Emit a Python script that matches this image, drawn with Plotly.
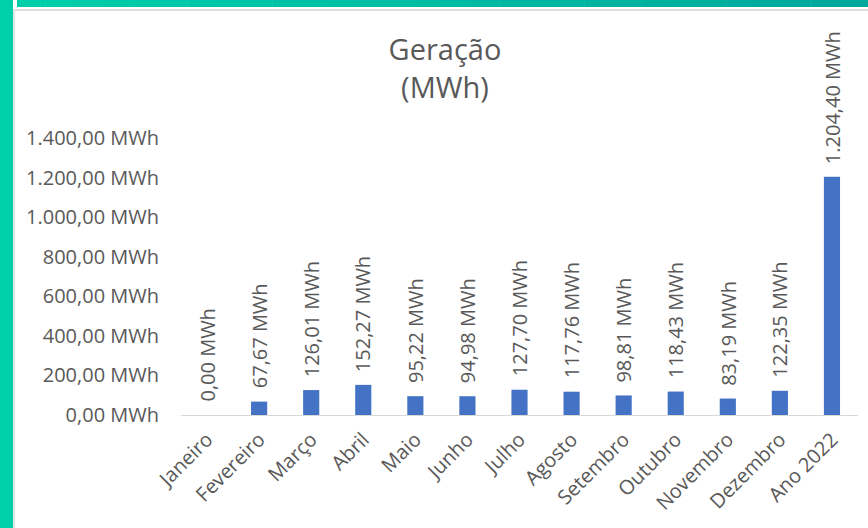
import plotly.graph_objects as go

categories = ["Janeiro", "Fevereiro", "Março", "Abril", "Maio", "Junho", "Julho",
              "Agosto", "Setembro", "Outubro", "Novembro", "Dezembro", "Ano 2022"]
values = [0.00, 67.67, 126.01, 152.27, 95.22, 94.98, 127.70,
          117.76, 98.81, 118.43, 83.19, 122.35, 1204.40]
tick_values = [0, 200, 400, 600, 800, 1000, 1200, 1400]


def fmt_br(v):
    s = f"{v:,.2f}"
    s = s.replace(",", "X").replace(".", ",").replace("X", ".")
    return s + " MWh"


W, H = 868, 528
L, R, T, B = 181, 858, 138, 415


def px(x):
    return (x - L) / (R - L)


def py(y):
    return (B - y) / (B - T)


FONT = "Open Sans"
GRAY = "#595959"
FS = 20

fig = go.Figure()
fig.add_trace(go.Bar(
    x=categories, y=values,
    marker=dict(color="#4472C4", line=dict(width=0)),
    width=0.31, hoverinfo="x+y",
))

annotations = []
for c, v in zip(categories, values):
    annotations.append(dict(
        x=c, y=v, xref="x", yref="y", text=fmt_br(v), showarrow=False,
        textangle=-90, xanchor="center", yanchor="bottom", yshift=11,
        font=dict(family=FONT, size=FS, color=GRAY)))

shapes = []
# left teal strip
shapes.append(dict(type="rect", xref="paper", yref="paper",
                   x0=px(0), x1=px(13), y0=py(H), y1=py(0),
                   fillcolor="#00CFAA", line=dict(width=0), layer="below"))
# top strip gradient
n = 30
c0 = (0x00, 0xCF, 0xAA)
c1 = (0x00, 0xA8, 0x9C)
x_start = 17
for i in range(n):
    xa = x_start + (W - x_start) * i / n
    xb = x_start + (W - x_start) * (i + 1) / n + 0.5
    t = i / (n - 1)
    c = tuple(round(c0[k] + (c1[k] - c0[k]) * t) for k in range(3))
    shapes.append(dict(type="rect", xref="paper", yref="paper",
                       x0=px(xa), x1=px(xb), y0=py(7), y1=py(0),
                       fillcolor="rgb(%d,%d,%d)" % c, line=dict(width=0), layer="below"))
# thin gray lines
shapes.append(dict(type="rect", xref="paper", yref="paper",
                   x0=px(15), x1=px(W), y0=py(11), y1=py(9),
                   fillcolor="#DEDEDE", line=dict(width=0), layer="below"))
shapes.append(dict(type="rect", xref="paper", yref="paper",
                   x0=px(13), x1=px(15), y0=py(H), y1=py(9),
                   fillcolor="#E4E4E4", line=dict(width=0), layer="below"))

fig.update_layout(
    width=W, height=H,
    margin=dict(l=L, r=W - R, t=T, b=H - B, pad=0),
    paper_bgcolor="white", plot_bgcolor="white",
    showlegend=False,
    shapes=shapes,
    annotations=annotations,
    title=dict(text="Geração<br>(MWh)", x=445 / W, xanchor="center",
               y=1 - 60 / H, yanchor="top",
               font=dict(family=FONT, size=29, color=GRAY)),
    font=dict(family=FONT, color=GRAY),
    xaxis=dict(showgrid=False, showline=True, linecolor="#D9D9D9", linewidth=1,
               ticks="", tickangle=-45, tickfont=dict(family=FONT, size=FS, color=GRAY),
               ticklabelstandoff=4),
    yaxis=dict(range=[0, 1400], showgrid=False, showline=False, zeroline=False,
               tickvals=tick_values, ticktext=[fmt_br(v) for v in tick_values],
               tickfont=dict(family=FONT, size=FS, color=GRAY), ticks="",
               ticklabelstandoff=21),
)

fig.write_html("out.html", config={"displayModeBar": False},
               post_script="document.body.style.margin='0px';document.body.style.overflow='hidden';")
